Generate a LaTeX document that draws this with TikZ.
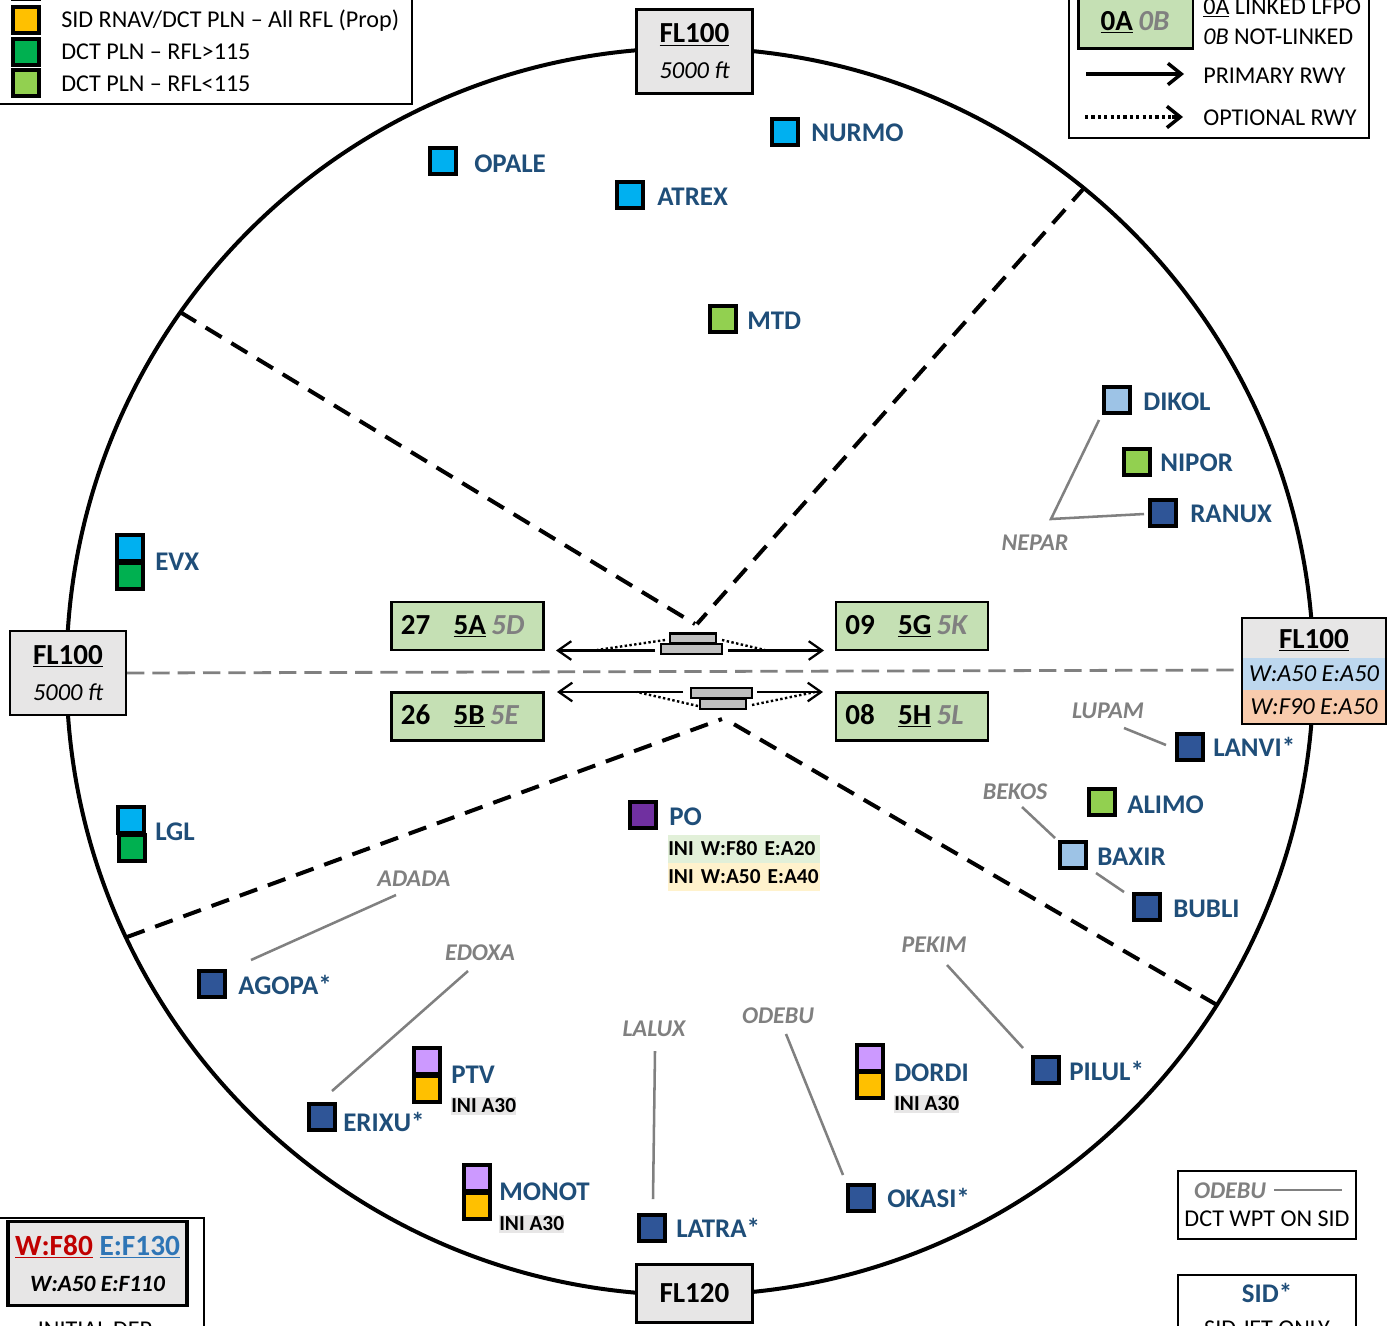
\documentclass[tikz,border=0pt]{standalone}
\usepackage{fontspec}
\setmainfont{Carlito}
\usetikzlibrary{arrows.meta}
\definecolor{navy}{HTML}{2F5597}
\definecolor{sky}{HTML}{00B0F0}
\definecolor{lime}{HTML}{92D050}
\definecolor{emer}{HTML}{00B050}
\definecolor{pale}{HTML}{9DC3E6}
\definecolor{lilac}{HTML}{CC99FF}
\definecolor{amber}{HTML}{FFC000}
\definecolor{purp}{HTML}{7030A0}
\definecolor{wpt}{HTML}{1F4E79}
\definecolor{grn}{HTML}{C5E0B4}
\definecolor{lgray}{HTML}{E7E6E6}
\definecolor{mgray}{HTML}{808080}
\definecolor{bar}{HTML}{BFBFBF}
\definecolor{redd}{HTML}{C00000}
\definecolor{blued}{HTML}{2E75B6}
\definecolor{flblue}{HTML}{BDD7EE}
\definecolor{flpeach}{HTML}{F8CBAD}
\newcommand{\fa}{\fontsize{20.2}{24}\selectfont}
\newcommand{\fb}{\fontsize{18.1}{22.5}\selectfont}
\newcommand{\fc}{\fontsize{16}{20}\selectfont}
\newcommand{\fd}{\fontsize{21.8}{27}\selectfont}
\newcommand{\fe}{\fontsize{18}{21}\selectfont}
\newcommand{\ff}{\fontsize{18.3}{27}\selectfont}
\newcommand{\Gy}[1]{\textcolor{mgray}{\textit{#1}}}
\tikzset{
  wp/.style={draw=black,line width=2.9pt,minimum size=19.5pt,inner sep=0pt,fill=#1},
  lab/.style={anchor=west,inner sep=0pt,font=\fa\bfseries,text=wpt},
  ini/.style={anchor=west,inner xsep=0pt,inner ysep=1.5pt,font=\fc\bfseries,fill=lgray},
  gname/.style={inner sep=0pt,font=\fe\bfseries\itshape,text=mgray},
  gline/.style={draw=mgray,line width=1.9pt},
  sector/.style={draw=black,line width=3pt,dash pattern=on 14pt off 8.5pt},
  flbox/.style={draw=black,line width=2.1pt,fill=lgray,inner sep=0pt,minimum width=87pt,align=center,font=\fontsize{20}{27}\selectfont},
  rwbox/.style={draw=black,line width=2.1pt,fill=grn,inner ysep=0pt,inner xsep=7pt,text width=100pt,minimum height=36pt,font=\fd\bfseries,text height=14pt,text depth=2pt},
  rwy/.style={draw=black,line width=1.9pt,fill=bar,inner sep=0pt},
  prim/.style={draw=black,line width=1.7pt,-{Straight Barb[length=10pt,width=14pt,line width=1.7pt]}},
  opt/.style={draw=black,line width=1.8pt,dash pattern=on 1.8pt off 1.8pt},
  frame/.style={draw=black,line width=1.5pt,fill=white,inner sep=0pt},
  leg/.style={anchor=west,inner sep=0pt,font=\fb},
}
\begin{document}
\begin{tikzpicture}[x=0.75pt,y=-0.75pt]
\path[use as bounding box,clip] (0,0) rectangle (1391,1325);
\fill[white] (0,0) rectangle (1391,1325);

% main circle
\coordinate (cc) at (690,671.5);
\draw[black,line width=3pt] (cc) circle[radius=623.5];

% sector lines
\coordinate (s1) at (180,312); \coordinate (s1e) at (695,624);
\coordinate (s2) at (1085,187); \coordinate (s2e) at (697,624);
\coordinate (s3) at (127,937); \coordinate (s3e) at (722,719);
\coordinate (s4) at (1217,1005); \coordinate (s4e) at (725,719);
\draw[sector] (s1) -- (s1e);
\draw[sector] (s2) -- (s2e);
\draw[sector] (s3) -- (s3e);
\draw[sector] (s4) -- (s4e);
\coordinate (m1) at (127,673); \coordinate (m2) at (1242,670);
\draw[draw=mgray,line width=2.1pt,dash pattern=on 13pt off 6pt] (m1) -- (m2);

% FL boxes
\node[flbox,minimum height=63pt] (fltop) at (694.5,51.5) {\fd\bfseries\underline{FL100}\\\ff\itshape 5000 ft};
\node[flbox,minimum height=63pt] (flleft) at (68,673) {\fd\bfseries\underline{FL100}\\\ff\itshape 5000 ft};
\node[flbox,minimum height=43pt] (flbot) at (694.5,1293.5) {\fd\bfseries FL120};
% right FL box
\node[fill=lgray,minimum width=108pt,minimum height=30pt,inner sep=0pt,font=\fd\bfseries] (flr) at (1314,638) {};
\node[inner sep=0pt,font=\fd\bfseries] (flrt) at (1314,640) {\underline{FL100}};
\node[fill=flblue,minimum width=108pt,minimum height=24pt,inner sep=0pt,font=\ff\itshape] (flra) at (1314,674) {W:A50 E:A50};
\node[fill=flpeach,minimum width=108pt,minimum height=25.5pt,inner sep=0pt,font=\ff\itshape] (flrb) at (1314,707) {W:F90 E:A50};
\node[draw=black,line width=2.1pt,minimum width=108pt,minimum height=79.5pt,inner sep=0pt] (flrframe) at (1314,671) {};

% runway boxes
\node[rwbox] (r27) at (467.5,626) {27\hspace{17.5pt}\underline{5A}\hspace{4pt}\Gy{5D}};
\node[rwbox] (r26) at (467.5,716.5) {26\hspace{17.5pt}\underline{5B}\hspace{4pt}\Gy{5E}};
\node[rwbox] (r09) at (912,626) {09\hspace{17.5pt}\underline{5G}\hspace{4pt}\Gy{5K}};
\node[rwbox] (r08) at (912,716.5) {08\hspace{17.5pt}\underline{5H}\hspace{4pt}\Gy{5L}};

% runway bars
\node[rwy,minimum width=34.5pt,minimum height=7.5pt] (ba1) at (693,638.5) {};
\node[rwy,minimum width=46pt,minimum height=7.5pt] (ba2) at (691.5,649) {};
\node[rwy,minimum width=46pt,minimum height=7.5pt] (bb1) at (721.5,693) {};
\node[rwy,minimum width=34.5pt,minimum height=7.5pt] (bb2) at (723,704) {};

% runway arrows
\coordinate (a1s) at (655,650.5); \coordinate (a1e) at (556,650.5);
\coordinate (a2s) at (728,650.5); \coordinate (a2e) at (824,650.5);
\coordinate (a3s) at (683,692); \coordinate (a3e) at (557,692);
\coordinate (a4s) at (757,692); \coordinate (a4e) at (823,692);
\draw[prim] (a1s) -- (a1e);
\draw[prim] (a2s) -- (a2e);
\draw[prim] (a3s) -- (a3e);
\draw[prim] (a4s) -- (a4e);
\coordinate (d1s) at (665,640); \coordinate (d1e) at (597,650);
\coordinate (d2s) at (722,640); \coordinate (d2e) at (765,650);
\coordinate (d3s) at (698,706); \coordinate (d3e) at (637,692);
\coordinate (d4s) at (752,705); \coordinate (d4e) at (815,692);
\draw[opt] (d1s) -- (d1e);
\draw[opt] (d2s) -- (d2e);
\draw[opt] (d3s) -- (d3e);
\draw[opt] (d4s) -- (d4e);

% waypoints
\node[wp=sky] (opale) at (443,161) {}; \node[lab] (lopale) at (474,164) {OPALE};
\node[wp=sky] (nurmo) at (785,132) {}; \node[lab] (lnurmo) at (811,133) {NURMO};
\node[wp=sky] (atrex) at (630,195) {}; \node[lab] (latrex) at (657,197) {ATREX};
\node[wp=lime] (mtd) at (723,319) {}; \node[lab] (lmtd) at (747,321) {MTD};
\node[wp=pale] (dikol) at (1117,400) {}; \node[lab] (ldikol) at (1143,402) {DIKOL};
\node[wp=lime] (nipor) at (1137,462) {}; \node[lab] (lnipor) at (1160,463) {NIPOR};
\node[wp=navy] (ranux) at (1163,513) {}; \node[lab] (lranux) at (1190,514) {RANUX};
\node[wp=sky] (evxa) at (130,548) {}; \node[wp=emer] (evxb) at (130,576) {}; \node[lab] (levx) at (155,562) {EVX};
\node[wp=sky] (lgla) at (131,820) {}; \node[wp=emer] (lglb) at (132,848) {}; \node[lab] (llgl) at (155,832) {LGL};
\node[wp=purp] (po) at (643,815) {}; \node[lab] (lpo) at (669,817) {PO};
\node[wp=navy] (agopa) at (212,984) {}; \node[lab] (lagopa) at (238,985) {AGOPA*};
\node[wp=lilac] (ptva) at (427,1061) {}; \node[wp=amber] (ptvb) at (427,1089) {}; \node[lab] (lptv) at (451,1075) {PTV};
\node[wp=navy] (erixu) at (322,1117) {}; \node[lab] (lerixu) at (343,1122) {ERIXU*};
\node[wp=lilac] (monota) at (477,1178) {}; \node[wp=amber] (monotb) at (477,1206) {}; \node[lab] (lmonot) at (499,1192) {MONOT};
\node[wp=navy] (latra) at (652,1228) {}; \node[lab] (llatra) at (676,1228) {LATRA*};
\node[wp=navy] (okasi) at (861,1198) {}; \node[lab] (lokasi) at (887,1198) {OKASI*};
\node[wp=lilac] (dordia) at (870,1058) {}; \node[wp=amber] (dordib) at (870,1085) {}; \node[lab] (ldordi) at (894,1073) {DORDI};
\node[wp=navy] (pilul) at (1046,1070) {}; \node[lab] (lpilul) at (1069,1071) {PILUL*};
\node[wp=navy] (bubli) at (1147,907) {}; \node[lab] (lbubli) at (1173,909) {BUBLI};
\node[wp=pale] (baxir) at (1073,855) {}; \node[lab] (lbaxir) at (1097,857) {BAXIR};
\node[wp=lime] (alimo) at (1102,802) {}; \node[lab] (lalimo) at (1127,805) {ALIMO};
\node[wp=navy] (lanvi) at (1190,747) {}; \node[lab] (llanvi) at (1213,747) {LANVI*};

% INI labels
\node[ini] (ini1) at (451,1106) {INI A30};
\node[ini] (ini2) at (499,1224) {INI A30};
\node[ini] (ini3) at (894,1104) {INI A30};
\node[ini,fill={rgb,255:red,226;green,240;blue,217},text width=114pt,align=left,minimum height=21pt,inner ysep=0pt,inner xsep=0pt] (ini4) at (668,848.5) {INI W:F80 E:A20};
\node[ini,fill={rgb,255:red,255;green,242;blue,204},text width=114pt,align=left,minimum height=21pt,inner ysep=0pt,inner xsep=0pt] (ini5) at (668,877) {INI W:A50 E:A40};

% gray names
\node[gname] (nepar) at (1035,543) {NEPAR};
\node[gname] (lupam) at (1108,711) {LUPAM};
\node[gname] (bekos) at (1015,792) {BEKOS};
\node[gname] (adada) at (414,879) {ADADA};
\node[gname] (edoxa) at (480,953) {EDOXA};
\node[gname] (pekim) at (934,945) {PEKIM};
\node[gname] (odebu) at (778,1016) {ODEBU};
\node[gname] (lalux) at (654,1029) {LALUX};

% gray connectors
\coordinate (g1a) at (1099,420); \coordinate (g1b) at (1051,519); \coordinate (g1c) at (1144,514);
\draw[gline] (g1a) -- (g1b) -- (g1c);
\coordinate (g2a) at (1124,728); \coordinate (g2b) at (1166,745); \draw[gline] (g2a) -- (g2b);
\coordinate (g3a) at (1022,807); \coordinate (g3b) at (1055,838); \draw[gline] (g3a) -- (g3b);
\coordinate (g4a) at (1096,873); \coordinate (g4b) at (1124,892); \draw[gline] (g4a) -- (g4b);
\coordinate (g5a) at (396,895); \coordinate (g5b) at (251,960); \draw[gline] (g5a) -- (g5b);
\coordinate (g6a) at (468,971); \coordinate (g6b) at (332,1091); \draw[gline] (g6a) -- (g6b);
\coordinate (g7a) at (947,965); \coordinate (g7b) at (1023,1048); \draw[gline] (g7a) -- (g7b);
\coordinate (g8a) at (786,1034); \coordinate (g8b) at (843,1175); \draw[gline] (g8a) -- (g8b);
\coordinate (g9a) at (655,1051); \coordinate (g9b) at (653,1199); \draw[gline] (g9a) -- (g9b);

% legend top left
\node[frame,minimum width=320pt,minimum height=118pt,anchor=south east] (legtl) at (413,105) {};
\node[wp=amber] (k1) at (26,20) {}; \node[leg] (kt1) at (61,21) {SID RNAV/DCT PLN – All RFL (Prop)};
\node[wp=emer] (k2) at (26,52) {}; \node[leg] (kt2) at (61,52) {DCT PLN – RFL>115};
\node[wp=lime] (k3) at (26,83) {}; \node[leg] (kt3) at (61,84) {DCT PLN – RFL<115};
\node[wp=lime,anchor=south] (k0) at (26,1) {};

% legend top right
\node[frame,minimum width=225pt,minimum height=118pt,anchor=south west] (legtr) at (1068,139) {};
\node[draw=black,line width=2.1pt,fill=grn,minimum width=86pt,minimum height=60pt,inner sep=0pt,anchor=south west,font=\fd\bfseries] (gk) at (1077,50) {};
\node[inner sep=0pt,font=\fd\bfseries] (gkt) at (1135,22) {\underline{0A}\hspace{4pt}\Gy{0B}};
\node[leg] (tr1) at (1203,8) {\underline{0A} LINKED LFPO};
\node[leg] (tr2) at (1203,37) {\textit{0B} NOT-LINKED};
\node[leg] (tr3) at (1203,76) {PRIMARY RWY};
\node[leg] (tr4) at (1203,118) {OPTIONAL RWY};
\coordinate (tra) at (1086,74); \coordinate (trb) at (1184,74);
\draw[line width=2.6pt,-{Straight Barb[length=10pt,width=16pt,line width=2.6pt]}] (tra) -- (trb);
\coordinate (tsa) at (1085,117); \coordinate (tsb) at (1172,117); \coordinate (tsc) at (1183,117);
\draw[line width=2.6pt,dash pattern=on 2.4pt off 2.4pt] (tsa) -- (tsb);
\draw[line width=2.6pt,-{Straight Barb[length=10pt,width=16pt,line width=2.6pt]}] (tsb) -- (tsc);

% legend bottom left
\node[frame,minimum width=200pt,minimum height=110pt,anchor=north east] (legbl) at (205,1216.5) {};
\node[draw=black,line width=2.6pt,fill=lgray,minimum width=134pt,minimum height=63pt,inner sep=0pt,align=center,font=\fontsize{20}{27}\selectfont] (blk) at (97.5,1263.5) {\fontsize{22}{27}\selectfont\bfseries\textcolor{redd}{\underline{W:F80}} \textcolor{blued}{\underline{E:F130}}\\\fontsize{17.5}{27}\selectfont\bfseries\itshape W:A50 E:F110};
\node[inner sep=0pt,font=\fb] (blt) at (95,1330) {INITIAL DEP};

% legend bottom right
\node[frame,minimum width=133pt,minimum height=51pt] (brk) at (1267,1204.5) {};
\node[inner sep=0pt,font=\fe\bfseries\itshape,text=mgray] (brn) at (1230,1191) {ODEBU};
\coordinate (brla) at (1274,1190); \coordinate (brlb) at (1342,1190);
\draw[gline] (brla) -- (brlb);
\node[inner sep=0pt,font=\fb] (brt) at (1267,1219) {DCT WPT ON SID};
\node[frame,minimum width=133pt,minimum height=70pt,anchor=north] (brs) at (1267,1274) {};
\node[inner sep=0pt,font=\fa\bfseries,text=wpt] (brst) at (1267,1293) {SID*};
\node[inner sep=0pt,font=\fb] (brsu) at (1267,1329) {SID JET ONLY};
\end{tikzpicture}
\end{document}
